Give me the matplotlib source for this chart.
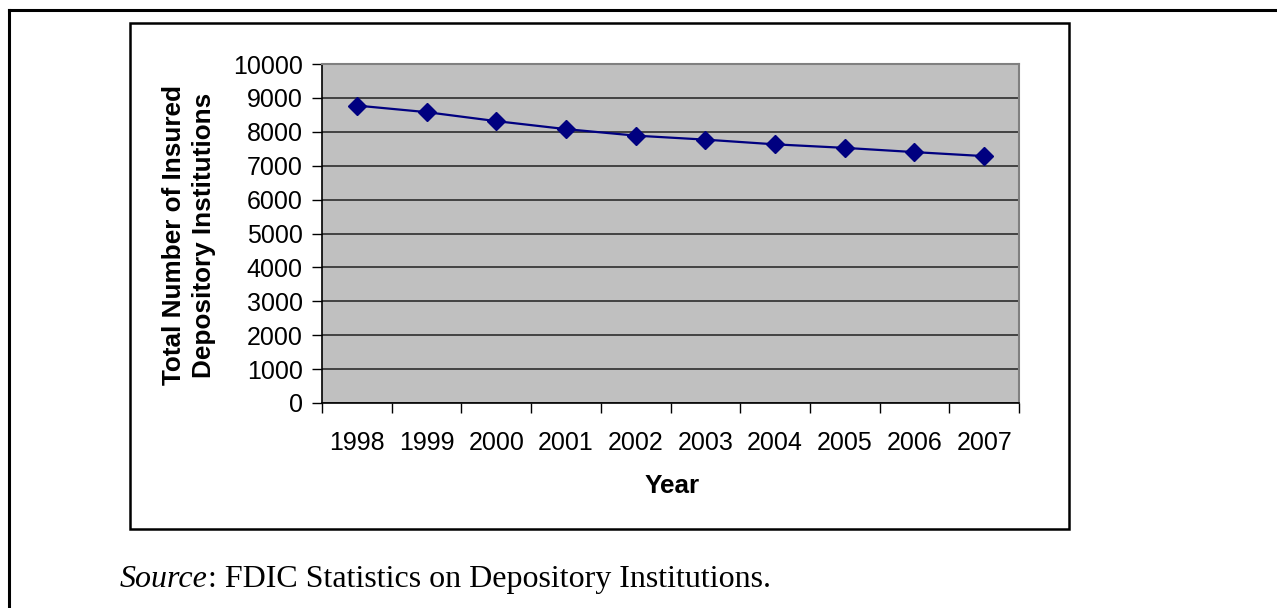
import matplotlib
matplotlib.use("Agg")
import matplotlib.pyplot as plt
from matplotlib.patches import Rectangle
from matplotlib.lines import Line2D

# data (FDIC insured institutions)
years = ['1998', '1999', '2000', '2001', '2002', '2003', '2004', '2005', '2006', '2007']
institutions = [8774, 8580, 8315, 8079, 7887, 7769, 7630, 7526, 7401, 7283]
y_ticks = list(range(0, 10001, 1000))

W, H = 1277, 608
fig = plt.figure(figsize=(W / 100, H / 100), dpi=100)
fig.patch.set_facecolor('white')

def fx(px):
    return px / W

def fy(py):
    return 1 - py / H

# outer frame (only left and top visible)
fig.add_artist(Line2D([fx(9), fx(9)], [fy(10), 0], color='black', lw=2.2,
                      transform=fig.transFigure))
fig.add_artist(Line2D([fx(9), 1], [fy(10), fy(10)], color='black', lw=2.2,
                      transform=fig.transFigure))

# chart box
fig.add_artist(Rectangle((fx(130), fy(529)), fx(1069 - 130), (529 - 23) / H,
                         fill=False, edgecolor='black', lw=1.8,
                         transform=fig.transFigure))

# plot area
ax = fig.add_axes([fx(322), fy(403), fx(1019 - 322), (403 - 64) / H])
ax.set_facecolor('#C0C0C0')

x = list(range(len(years)))
ax.plot(x, institutions, color='#000080', lw=1.6, marker='D', markersize=9.5,
        markerfacecolor='#000080', markeredgecolor='#000080', zorder=3)

ax.set_xlim(-0.5, len(years) - 0.5)
ax.set_ylim(0, 10000)
ax.set_yticks(y_ticks)
ax.set_yticklabels([str(v) for v in y_ticks], fontsize=18, family='Liberation Sans')
ax.yaxis.grid(True, color='#202020', lw=1.1)
ax.set_axisbelow(True)

ax.set_xticks(x)
ax.set_xticklabels(years, fontsize=18, family='Liberation Sans')
ax.set_xticks([i - 0.5 for i in range(len(years) + 1)], minor=True)
ax.tick_params(axis='x', which='major', length=0, pad=20)
ax.tick_params(axis='x', which='minor', length=7, width=1, direction='out', color='black')
ax.tick_params(axis='y', length=7, width=1, direction='out', pad=7, color='black')

for side in ['left', 'bottom']:
    ax.spines[side].set_color('black')
    ax.spines[side].set_linewidth(1.2)
for side in ['top', 'right']:
    ax.spines[side].set_color('#808080')
    ax.spines[side].set_linewidth(1.5)

fig.text(fx(189), fy(235), 'Total Number of Insured\nDepository Institutions',
         rotation=90, ha='center', va='center', multialignment='center',
         fontsize=18.8, fontweight='bold', family='Liberation Sans', linespacing=1.3)
fig.text(fx(672), fy(486), 'Year', ha='center', va='center',
         fontsize=18.8, fontweight='bold', family='Liberation Sans')

# source note: italic "Source" followed by upright text
src = fig.text(fx(120), fy(587), 'Source', fontsize=23, va='baseline',
               family='Liberation Serif', style='italic')
fig.canvas.draw()
bb = src.get_window_extent()
fig.text(bb.x1 / W, fy(587), ': FDIC Statistics on Depository Institutions.',
         fontsize=23, va='baseline', family='Liberation Serif')

fig.savefig('out.png', dpi=100)
